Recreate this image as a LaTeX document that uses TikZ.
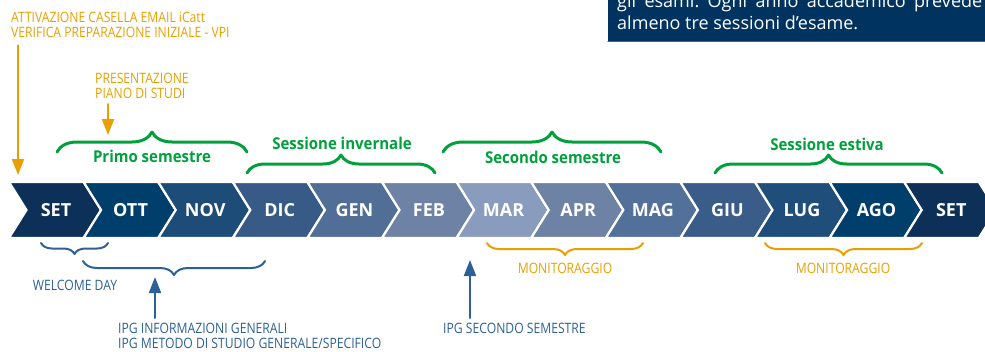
\documentclass[tikz,border=0pt]{standalone}
\usepackage{xcolor}
\usepackage{fontspec}
\usepackage{tikz}
\usetikzlibrary{arrows.meta}
\usetikzlibrary{decorations.pathreplacing}
\setmainfont{Open Sans}
\newfontfamily\narrowfont{Open Sans}[FakeStretch=0.85]
\newfontfamily\greenfont{Open Sans}[FakeStretch=0.92]
\frenchspacing
\definecolor{qctqvy}{rgb}{0.047,0.188,0.345}
\definecolor{qqtewb}{rgb}{0.,0.243,0.420}
\definecolor{reucxy}{rgb}{0.118,0.298,0.471}
\definecolor{txvayx}{rgb}{0.216,0.353,0.529}
\definecolor{vqweze}{rgb}{0.314,0.431,0.588}
\definecolor{weysav}{rgb}{0.431,0.510,0.647}
\definecolor{yazcbe}{rgb}{0.541,0.612,0.745}
\definecolor{vsxqza}{rgb}{0.322,0.439,0.604}
\definecolor{tavcyy}{rgb}{0.227,0.361,0.533}
\definecolor{squexa}{rgb}{0.125,0.306,0.478}
\definecolor{qqaqtc}{rgb}{0.,0.627,0.235}
\definecolor{eyaqqq}{rgb}{0.910,0.627,0.}
\definecolor{sdwrzw}{rgb}{0.176,0.380,0.588}
\definecolor{qqttvf}{rgb}{0.,0.200,0.373}
\definecolor{sewdau}{rgb}{0.180,0.427,0.643}
\newcommand{\monthfont}{\fontsize{18}{20}\selectfont\bfseries}
\newcommand{\labelfont}{\greenfont\fontsize{16.3}{18}\selectfont\bfseries}
\newcommand{\notefont}{\narrowfont\fontsize{14.3}{15.3}\selectfont}
\tikzstyle{every node}=[inner sep=0pt]

\begin{document}
\begin{tikzpicture}[line cap=round,line join=round,>={Triangle[length=16pt,width=12pt]},x=1.0pt,y=-1.0pt]
            \useasboundingbox (0,0) rectangle (985,351);
            \clip(0,0) rectangle (985,351);
            % box top right
            \fill [color=qqttvf] (608,-5) rectangle (990,41);
            \draw [line width=1.5pt,color=sewdau] (608,41.5) -- (990,41.5);
            \node [anchor=base west,text=white,font=\fontsize{18}{22}\selectfont] (boxa) at (617,7) {\makebox[365pt][s]{gli esami. Ogni anno accademico prevede}};
            \node [anchor=base west,text=white,font=\fontsize{18}{22}\selectfont] (boxb) at (617,29) {almeno tre sessioni d'esame.};
            % months
            \foreach \m/\c [count=\i from 0] in {SET/qctqvy,OTT/qqtewb,NOV/reucxy,DIC/txvayx,GEN/vqweze,FEB/weysav,MAR/yazcbe,APR/weysav,MAG/vsxqza,GIU/tavcyy,LUG/squexa,AGO/qqtewb,SET/qctqvy}
            {
            \draw [fill=\c,draw=white,line width=2.2pt,line join=miter] ({9+74.6*\i},182) -- ++(74.6,0) -- ++(17.5,28) -- ++(-17.5,28) -- ++(-74.6,0) -- ++(17.5,-28) -- cycle;
            \node [text=white,font=\monthfont] (m\i) at ({56+74.6*\i},210) {\m};
            }
            % top braces
            \draw [decorate,decoration={brace,amplitude=20pt},line width=3pt,color=qqaqtc] (57,152) -- (247,152);
            \draw [decorate,decoration={brace,amplitude=18pt},line width=3pt,color=qqaqtc] (247,173) -- (435,173);
            \draw [decorate,decoration={brace,amplitude=20pt},line width=3pt,color=qqaqtc] (443,152) -- (661,152);
            \draw [decorate,decoration={brace,amplitude=18pt},line width=3pt,color=qqaqtc] (715,173) -- (942,173);
            \node [text=qqaqtc,font=\labelfont] (primo) at (152,156) {Primo semestre};
            \node [text=qqaqtc,font=\labelfont] (invernale) at (342,143) {Sessione invernale};
            \node [text=qqaqtc,font=\labelfont] (secondo) at (553,157) {Secondo semestre};
            \node [text=qqaqtc,font=\labelfont] (estiva) at (827,144) {Sessione estiva};
            % orange notes
            \node [anchor=north west,align=left,text=eyaqqq,font=\notefont] (attiv) at (11,12) {ATTIVAZIONE CASELLA EMAIL iCatt\\VERIFICA PREPARAZIONE INIZIALE - VPI};
            \node [anchor=north west,align=left,text=eyaqqq,font=\notefont] (piano) at (95,73) {PRESENTAZIONE\\PIANO DI STUDI};
            \coordinate (attivtip) at (18,175);
            \coordinate (pianotip) at (108,135);
            \draw [->,line width=2pt,color=eyaqqq,shorten <=7pt] (attiv.south -| attivtip) -- (attivtip);
            \draw [->,line width=2pt,color=eyaqqq,shorten <=5pt] (piano.south -| pianotip) -- (pianotip);
            % bottom braces
            \draw [decorate,decoration={brace,amplitude=11pt,mirror},line width=2pt,color=sdwrzw] (41,243) -- (108,243);
            \draw [decorate,decoration={brace,amplitude=14pt,mirror},line width=2pt,color=sdwrzw] (83,261) -- (265,261);
            \draw [decorate,decoration={brace,amplitude=12pt,mirror},line width=2pt,color=eyaqqq] (487,243) -- (643,243);
            \draw [decorate,decoration={brace,amplitude=12pt,mirror},line width=2pt,color=eyaqqq] (765,243) -- (922,243);
            \node [text=sdwrzw,font=\notefont] (welcome) at (75,285) {WELCOME DAY};
            \node [text=eyaqqq,font=\notefont] (monit1) at (565,268) {MONITORAGGIO};
            \node [text=eyaqqq,font=\notefont] (monit2) at (843,268) {MONITORAGGIO};
            \node [anchor=north west,align=left,text=sdwrzw,font=\notefont] (ipg) at (118,323) {IPG INFORMAZIONI GENERALI\\IPG METODO DI STUDIO GENERALE/SPECIFICO};
            \node [anchor=north west,text=sdwrzw,font=\notefont] (ipgsec) at (443,323) {IPG SECONDO SEMESTRE};
            \coordinate (ipgtip) at (155,277);
            \coordinate (ipgsectip) at (470,260);
            \draw [->,line width=2pt,color=sdwrzw,shorten <=5pt] (ipg.north -| ipgtip) -- (ipgtip);
            \draw [->,line width=2pt,color=sdwrzw,shorten <=5pt] (ipgsec.north -| ipgsectip) -- (ipgsectip);
            \end{tikzpicture}
\end{document}
